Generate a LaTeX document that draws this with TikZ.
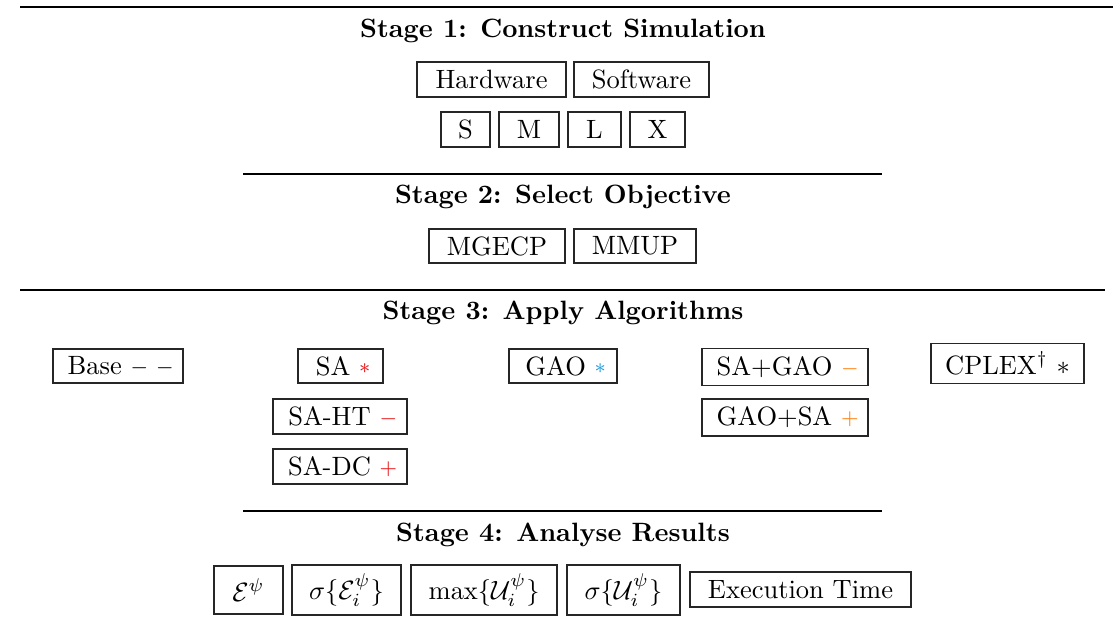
\documentclass[tikz,border=0pt]{standalone}
\usepackage{amsmath}
\definecolor{algred}{RGB}{228,26,28}
\definecolor{algblue}{RGB}{35,155,215}
\definecolor{algorange}{RGB}{255,127,14}
\def\pxu{0.3775pt}
% small coloured marker after an algorithm name
\newcommand{\algmark}[2]{\raisebox{0.5pt}{\color{#1}\footnotesize$#2$}}
\tikzset{
  cell/.style 2 args={draw=black!85, line width=0.45pt, inner sep=0pt,
    minimum width=#1*\pxu, minimum height=#2*\pxu, font=\normalsize},
  stagetitle/.style={inner sep=0pt, font=\bfseries},
}
\begin{document}
\begin{tikzpicture}[x=\pxu, y=-\pxu]
\useasboundingbox (0,0) rectangle (1113,639);

% rules between the stages
\draw[line width=0.8pt] (20,7) -- (1113,7);
\draw[line width=0.4pt] (243,174) -- (882,174);
\draw[line width=0.55pt] (20,290) -- (1105,290);
\draw[line width=0.4pt] (243,511) -- (882,511);

% Stage 1
\node[stagetitle] (t1) at (563,31) {Stage 1: Construct Simulation};
\node[cell={149}{35}] (hw) at (491.5,79.5) {Hardware};
\node[cell={135}{35}] (sw) at (641.5,79.5) {Software};
\node[cell={49}{35}] (s) at (465.5,129.5) {S};
\node[cell={60}{35}] (m) at (529,129.5) {M};
\node[cell={53}{35}] (l) at (594.5,129.5) {L};
\node[cell={55}{35}] (x) at (657.5,129.5) {X};

% Stage 2
\node[stagetitle] (t2) at (563,197) {Stage 2: Select Objective};
\node[cell={136}{34}] (mgecp) at (497,246) {MGECP};
\node[cell={122}{34}] (mmup) at (635,246) {MMUP};

% Stage 3
\node[stagetitle] (t3) at (563,313) {Stage 3: Apply Algorithms};
\node[cell={130}{34}] (base) at (118,366) {\hspace{2pt}Base \algmark{black}{-}\hspace{3pt}\algmark{black}{-}};
\node[cell={85}{34}] (sa) at (340.5,366) {\hspace{2pt}SA \algmark{algred}{\ast}};
\node[cell={134}{35}] (saht) at (340,416.5) {\hspace{2pt}SA-HT \algmark{algred}{-}};
\node[cell={134}{35}] (sadc) at (340,466.5) {\hspace{2pt}SA-DC \algmark{algred}{+}};
\node[cell={108}{34}] (gao) at (563,366) {\hspace{2pt}GAO \algmark{algblue}{\ast}};
\node[cell={166}{37}] (sagao) at (785,367) {\hspace{2pt}SA+GAO \algmark{algorange}{-}};
\node[cell={166}{37}] (gaosa) at (785,417.5) {\hspace{2pt}GAO+SA \algmark{algorange}{+}};
\node[cell={153}{40}] (cplex) at (1007.5,363.5) {CPLEX$^\dagger$ $\ast$};

% Stage 4
\node[stagetitle] (t4) at (563,535) {Stage 4: Analyse Results};
\node[cell={69}{48}] (epsi) at (248.5,590) {$\mathcal{E}^\psi$};
\node[cell={109}{50}] (sige) at (346.5,590) {$\sigma\{\mathcal{E}^\psi_i\}$};
\node[cell={146}{50}] (maxu) at (484,590) {$\max\{\mathcal{U}^\psi_i\}$};
\node[cell={113}{50}] (sigu) at (623.5,590) {$\sigma\{\mathcal{U}^\psi_i\}$};
\node[cell={221}{35}] (exec) at (800.5,589.5) {Execution Time};
\end{tikzpicture}
\end{document}
